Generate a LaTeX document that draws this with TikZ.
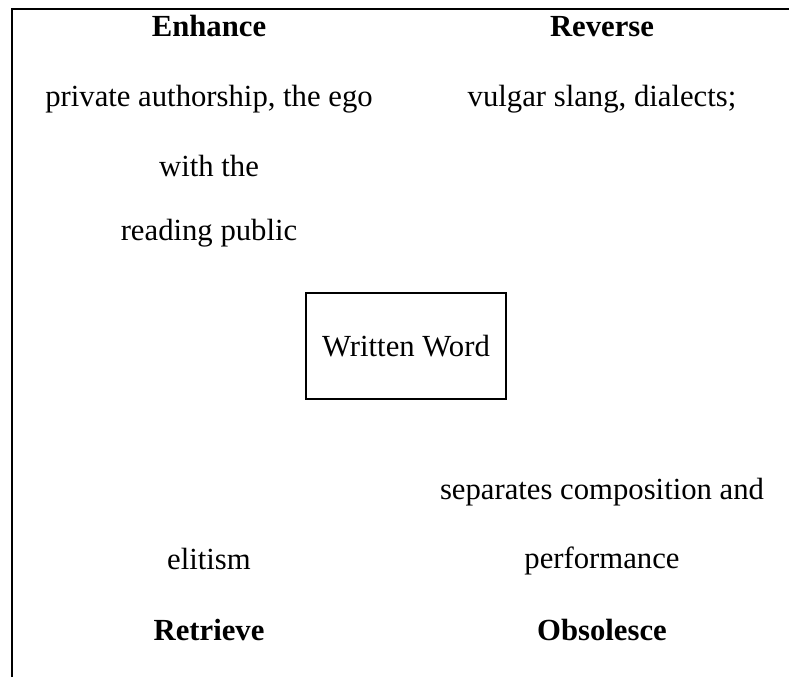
\documentclass[tikz,border=0pt]{standalone}
\usepackage{fontspec}
\setmainfont{Liberation Serif}
\usepackage{tikz}
\usetikzlibrary{positioning,calc}

\begin{document}
\begin{tikzpicture}[
        x=1pt, y=-1pt,
        label/.style={anchor=base, inner sep=0pt, font=\fontsize{30.7}{36}\selectfont},
        heading/.style={label, font=\fontsize{30.7}{36}\selectfont\bfseries},
        medium/.style={rectangle, draw, line width=1.3pt, minimum width=200pt, minimum height=106pt, font=\fontsize{30.7}{36}\selectfont},
        frame/.style={draw, line width=1.3pt}
    ]
    \useasboundingbox (0,0) rectangle (789,677);

    % Frame (top and left edge)
    \coordinate (frametop) at (12,9);
    \coordinate (frameend) at (789,9);
    \coordinate (framebot) at (12,677);
    \path [frame] (framebot) -- (frametop) -- (frameend);

    % Enhance quadrant
    \node [heading] (enhance) at (209,37) {Enhance};
    \node [label] (enh1) at (209,106) {private authorship, the ego};
    \node [label] (enh2) at (209,176) {with the};
    \node [label] (enh3) at (209,240) {reading public};

    % Reverse quadrant
    \node [heading] (reverse) at (602,37) {Reverse};
    \node [label] (rev1) at (602,106) {vulgar slang, dialects;};

    % Medium
    \node [medium] (medium) at (406,346) {Written Word};

    % Retrieve quadrant
    \node [label] (ret1) at (209,569) {elitism};
    \node [heading] (retrieve) at (209,640) {Retrieve};

    % Obsolesce quadrant
    \node [label] (obs1) at (602,499) {separates composition and};
    \node [label] (obs2) at (602,568) {performance};
    \node [heading] (obsolesce) at (602,640) {Obsolesce};

\end{tikzpicture}
\end{document}
